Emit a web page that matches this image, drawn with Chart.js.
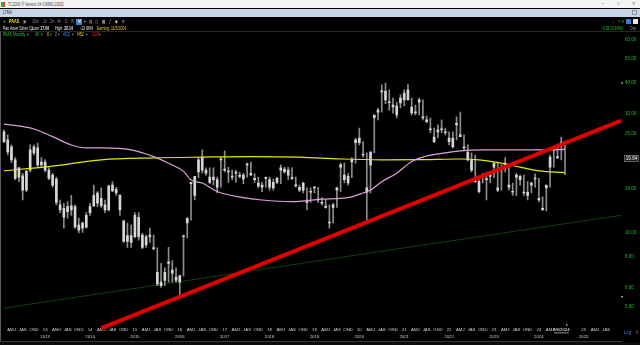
<!DOCTYPE html>
<html>
<head>
<meta charset="utf-8">
<script src="https://cdn.jsdelivr.net/npm/chart.js@4.4.1/dist/chart.umd.min.js"></script>
<style>
  html, body { margin: 0; padding: 0; background: #000; }
  #wrap { position: relative; width: 640px; height: 345px; overflow: hidden; background: #000;
          font-family: "Liberation Sans", Arial, "DejaVu Sans", sans-serif; }
  #chart { position: absolute; left: 0; top: 0; }
  .t { position: absolute; white-space: nowrap; font-size: 4.6px; line-height: 5px;
       transform: scaleX(0.76); transform-origin: 0 0; }
  .bar { position: absolute; }
</style>
</head>
<body>
<div id="wrap">
  <canvas id="chart" width="640" height="345"></canvas>

  <!-- window title bar -->
  <div class="bar" style="left:0;top:0;width:640px;height:8px;background:#f3f3f3;"></div>
  <div class="bar" style="left:1px;top:1.5px;width:2px;height:5px;background:#2eb82e;"></div>
  <div class="bar" style="left:3px;top:1.5px;width:2px;height:5px;background:#e04040;"></div>
  <div class="t" style="left:8px;top:1.5px;color:#444;">TC2000 ® Version 24.0.8890.23032</div>
  <div class="t" style="left:602px;top:1px;color:#555;font-size:5px;">–</div>
  <div class="t" style="left:617px;top:1px;color:#555;font-size:5px;">□</div>
  <div class="t" style="left:632px;top:1px;color:#555;font-size:5px;">✕</div>

  <!-- layout tab bar -->
  <div class="bar" style="left:0;top:8.5px;width:640px;height:8px;background:#c7d4e6;"></div>
  <div class="t" style="left:3px;top:10px;color:#334;">LTMA</div>
  <div class="bar" style="left:632px;top:10px;width:5px;height:5px;border:1px solid #8a93a0;box-sizing:border-box;"></div>

  <!-- toolbar row -->
  <div class="t" style="left:3px;top:18.5px;color:#2fd02f;font-size:6px;font-weight:bold;">+</div>
  <div class="t" style="left:9px;top:19px;color:#f0e000;font-size:5px;font-weight:bold;">PAAS</div>
  <div class="t" style="left:23px;top:19px;color:#9a9a9a;">▣</div>
  <div class="t" style="left:32px;top:19px;color:#8a8a8a;">10m</div>
  <div class="t" style="left:43px;top:19px;color:#8a8a8a;">1h</div>
  <div class="t" style="left:50px;top:19px;color:#8a8a8a;">2h</div>
  <div class="t" style="left:57px;top:19px;color:#8a8a8a;">4h</div>
  <div class="t" style="left:65px;top:19px;color:#8a8a8a;">D</div>
  <div class="t" style="left:71px;top:19px;color:#8a8a8a;">W</div>
  <div class="bar" style="left:76px;top:18.5px;width:5.5px;height:6px;background:#3a7bd5;"></div>
  <div class="t" style="left:77.5px;top:19px;color:#fff;">M</div>
  <div class="t" style="left:84px;top:19px;color:#aaa;">▾</div>
  <div class="t" style="left:89px;top:19px;color:#bbb;">▤</div>
  <div class="t" style="left:95px;top:19px;color:#888;">◫</div>
  <div class="t" style="left:102px;top:19px;color:#ccc;">▦</div>
  <div class="t" style="left:109px;top:19px;color:#ccc;">╱</div>
  <div class="t" style="left:115px;top:19px;color:#ccc;">◆</div>
  <div class="t" style="left:122px;top:19px;color:#ccc;">⟳</div>
  <div class="t" style="left:612px;top:19px;color:#888;">☆</div>
  <div class="t" style="left:618px;top:19px;color:#888;">▽</div>
  <div class="t" style="left:622px;top:19px;color:#2fd02f;">▾</div>
  <div class="bar" style="left:626px;top:19px;width:5px;height:5px;background:#3a7bd5;"></div>
  <div class="bar" style="left:633px;top:19px;width:5px;height:5px;background:#e8e8e8;"></div>

  <!-- quote row -->
  <div class="t" style="left:3px;top:25.5px;color:#e8e8e8;">Pan Amer Silver Cp</div>
  <div class="t" style="left:32px;top:25.5px;color:#e8e8e8;">Low: <b>17.06</b></div>
  <div class="t" style="left:55px;top:25.5px;color:#e8e8e8;">High: <b>23.14</b></div>
  <div class="t" style="left:80px;top:25.5px;color:#e8e8e8;">-13.66%</div>
  <div class="t" style="left:97px;top:25.5px;color:#e8c800;">Earning: 11/5/2024</div>
  <div class="t" style="left:601px;top:25.5px;color:#20d020;">↑0.02 (0.10%)</div>
  <div class="t" style="left:630px;top:25.5px;color:#999;">Opt</div>
  <div class="bar" style="left:0;top:31px;width:640px;height:1px;background:#262626;"></div>

  <!-- indicator row -->
  <div class="t" style="left:3px;top:32px;color:#30c030;">PAAS Monthly</div>
  <div class="t" style="left:27px;top:32px;color:#888;">▾</div>
  <div class="t" style="left:35px;top:32px;color:#30c030;">All</div>
  <div class="t" style="left:41px;top:32px;color:#888;">▾</div>
  <div class="t" style="left:47px;top:32px;color:#e0e000;">6</div>
  <div class="t" style="left:50px;top:32px;color:#888;">▾</div>
  <div class="t" style="left:55px;top:32px;color:#d080d0;">2</div>
  <div class="t" style="left:58px;top:32px;color:#888;">▾</div>
  <div class="t" style="left:63px;top:32px;color:#3090ff;">ADZ</div>
  <div class="t" style="left:72px;top:32px;color:#888;">▾</div>
  <div class="t" style="left:77px;top:32px;color:#e0d000;">HB2</div>
  <div class="t" style="left:86px;top:32px;color:#888;">▾</div>
  <div class="t" style="left:92px;top:32px;color:#e03030;">CLR</div>
  <div class="t" style="left:99px;top:32px;color:#888;">▾</div>

  <!-- frame and footer -->
  <div class="bar" style="left:0;top:32px;width:1px;height:310px;background:#5a5a5a;"></div>
  <div class="t" style="left:624px;top:330px;color:#3a80e0;font-size:5.5px;">Log</div>
  <div class="t" style="left:636px;top:330px;color:#d05020;font-size:5.5px;">d</div>
  <div class="bar" style="left:0;top:340.5px;width:622px;height:1px;background:#3a3a3a;"></div>
  <div class="bar" style="left:0;top:341.5px;width:640px;height:3.5px;background:#0c0c0c;"></div>
</div>

<script>
// month axis: Feb 2012 .. Nov 2025
const firstYear = 2012, firstMonth = 2, monthCount = 166;
const monthLabels = [];
for (let i = 0; i < monthCount; i++) {
    const m = firstMonth - 1 + i;
    const y = firstYear + Math.floor(m / 12);
    monthLabels.push(y + '-' + String(m % 12 + 1).padStart(2, '0'));
}

// monthly OHLC, Feb 2012 .. Aug 2024
const opens = [25.4,23.6,22.1,19.6,18.2,16.9,14.8,17.8,20.9,21.9,19.2,19.2,17.8,17.0,16.4,12.9,12.5,12.1,12.3,12.7,
    10.7,10.4,10.5,12.0,12.8,13.1,13.7,12.9,12.3,14.7,14.9,14.1,11.1,9.7,9.1,9.6,11.5,9.75,8.9,9.6,
    8.6,6.9,6.3,6.4,7.5,7.05,6.6,6.7,9.6,11.4,15.9,16.8,17.5,17.8,17.8,16.7,16.7,16.3,19.6,17.8,
    17.5,16.7,17.3,16.8,17.0,18.8,17.0,16.5,15.8,15.5,16.5,16.3,15.9,15.9,18.2,18.0,17.8,16.5,15.4,15.2,
    14.8,13.5,14.5,15.1,13.5,13.2,12.6,11.0,12.6,14.8,18.7,17.0,16.8,19.2,23.0,23.0,20.5,14.5,21.1,29.7,
    31.1,37.1,37.1,33.5,32.6,32.3,33.2,34.2,34.2,32.0,30.3,33.5,29.2,28.4,25.9,24.2,25.4,26.1,25.2,24.0,
    24.0,27.1,24.3,22.1,21.0,19.5,16.0,16.0,16.7,16.4,16.8,19.0,15.1,17.8,18.3,15.5,14.5,16.7,16.8,14.5,
    14.5,15.5,16.4,13.7,12.3,15.5,18.3,22.1,20.0,22.9];
const highs = [25.9,24.7,22.5,20.0,18.3,17.3,17.8,22.5,22.5,22.9,20.0,19.6,18.2,17.3,16.7,13.5,13.1,13.3,14.1,12.9,
    11.4,11.0,12.0,13.1,15.5,14.6,15.1,13.5,15.5,16.0,15.2,14.2,11.2,10.9,10.7,12.0,12.0,9.9,9.75,10.4,
    9.75,8.65,7.5,7.2,8.7,7.7,7.2,6.7,9.75,11.4,15.9,16.6,20.0,21.5,18.2,18.2,18.2,16.7,20.0,21.3,
    18.3,17.8,17.8,17.5,17.3,19.0,19.2,17.2,16.7,15.9,16.7,16.7,16.4,16.7,18.7,18.3,18.3,18.2,16.7,15.5,
    15.9,15.1,15.1,15.2,15.2,13.8,13.5,12.9,13.1,15.2,19.0,19.0,17.3,20.0,24.0,26.3,23.2,20.9,19.0,29.7,
    31.6,39.3,40.0,37.5,34.8,33.5,35.8,37.5,39.6,34.8,32.6,34.8,34.2,29.4,28.9,26.3,27.1,28.4,26.3,25.4,
    25.4,29.2,30.5,24.7,22.5,20.9,20.5,16.3,17.3,17.5,17.5,18.7,19.2,18.7,20.0,18.7,15.8,17.3,17.0,17.0,
    16.0,15.9,17.2,16.5,13.9,15.2,20.5,21.9,22.7,24.2,23.14];
const lows = [23.0,20.5,19.1,16.3,16.0,13.5,14.6,17.5,20.5,18.3,18.3,17.5,16.3,15.2,12.9,12.0,10.4,11.4,11.7,10.4,
    9.94,10.0,10.4,11.7,12.7,12.7,12.6,12.0,12.2,14.6,14.1,11.7,9.1,8.7,8.7,9.5,9.3,8.6,8.7,9.1,
    8.5,6.1,6.0,6.1,6.3,6.3,6.3,5.5,6.65,9.5,11.2,13.5,16.6,17.3,17.0,15.7,15.5,14.4,15.2,17.5,
    15.9,16.3,15.9,16.6,15.7,16.7,17.0,15.9,15.1,14.6,15.2,14.8,14.8,15.7,15.7,17.3,16.3,16.3,15.2,14.6,
    14.4,12.3,13.2,14.4,13.2,12.9,12.5,10.4,10.9,12.6,14.6,15.8,15.5,16.6,19.0,22.5,20.1,11.0,14.4,20.9,
    28.4,30.5,33.0,31.1,30.2,28.9,31.7,32.3,34.2,29.7,29.7,29.7,28.4,27.7,25.2,23.0,24.0,25.2,24.7,22.5,
    21.9,23.6,24.3,21.5,19.4,17.5,15.9,14.4,15.8,13.5,15.8,16.6,14.6,14.8,17.5,14.8,14.1,14.1,15.5,14.1,
    13.5,14.4,15.2,13.3,12.3,12.2,15.2,18.3,19.8,19.6,17.06];
const closes = [23.2,21.1,19.6,16.5,16.7,14.8,17.6,21.5,22.1,18.7,18.7,17.8,16.5,15.5,13.2,12.3,11.5,12.7,12.8,10.5,
    10.2,10.9,11.7,12.7,14.1,14.4,12.8,12.3,15.4,15.5,14.4,12.3,9.2,9.2,9.7,11.7,9.6,8.7,9.6,9.75,
    8.6,6.2,6.1,6.9,7.6,6.85,6.4,6.3,9.6,10.9,15.7,14.1,19.6,20.0,17.3,15.9,16.3,15.2,19.6,17.8,
    17.5,16.7,17.5,16.8,16.4,18.7,17.3,16.3,15.4,15.2,16.5,15.2,15.1,16.5,17.8,17.5,17.0,16.5,15.5,14.8,
    15.8,13.2,14.5,15.1,13.5,13.1,12.6,10.9,12.9,15.1,18.3,16.3,15.8,19.6,23.6,24.0,20.5,15.1,18.7,29.0,
    30.5,36.8,34.2,33.3,32.0,29.7,34.8,36.4,37.5,30.3,30.3,34.2,28.9,27.9,25.9,23.2,25.9,25.9,25.2,23.2,
    22.1,27.5,24.7,21.9,19.6,17.8,16.3,14.6,17.0,16.3,16.8,18.3,14.8,18.3,19.0,15.2,14.5,17.0,16.3,14.4,
    14.1,15.8,16.4,13.5,12.5,15.1,20.1,21.5,20.0,22.98,19.84];

// moving averages read at sample months
const pinkMonths = ['2012-02','2012-10','2013-03','2013-08','2013-12','2014-04','2014-12','2015-06','2015-10','2016-02',
    '2016-04','2016-07','2016-11','2017-06','2017-11','2018-07','2019-03','2019-08','2019-11','2020-02',
    '2020-04','2020-07','2020-11','2021-03','2021-06','2021-11','2022-04','2022-10','2024-03','2024-08'];
const pinkValues = [27.3,26.1,24.3,22.5,21.9,21.9,21.5,20.2,19.0,17.6,
    16.25,15.8,14.6,13.8,13.5,13.3,13.6,13.7,13.9,14.4,
    14.8,16.0,17.3,19.3,20.1,20.8,21.3,21.5,21.5,21.6];
const yellowMonths = ['2012-02','2013-03','2014-04','2015-06','2016-07','2017-08','2018-09','2019-08','2020-07','2021-06',
    '2022-04','2022-09','2023-03','2023-08','2024-01','2024-08'];
const yellowValues = [17.7,18.5,19.6,19.95,20.1,20.2,20.1,19.75,19.6,19.65,
    19.75,19.6,19.0,18.3,17.7,17.4];

// trend lines
const redMonths = ['2014-04','2025-11'];
const redValues = [4.11, 28.2];
const greenMonths = ['2012-02','2025-11'];
const greenValues = [4.95, 11.71];

const yTicks = [5, 6, 8, 10, 15, 25, 30, 40, 50, 60];
const lastPrice = 19.84;
const dateMarkMonth = '2024-07';
const dateMarkText = '9/6/2024';
const hiddenTickMonths = ['2024-10', '2025-10'];
const quarterNames = {4: 'AMJ', 7: 'JAS', 10: 'OND'};

const pts = (ms, vs) => ms.map((m, i) => ({x: m, y: vs[i]}));
const FONT = '"Liberation Sans", Arial, sans-serif';

const overlay = {
    id: 'overlay',
    afterDraw(chart) {
        const {ctx, chartArea, scales} = chart;
        const y = scales.y, x = scales.x;
        ctx.save();
        // visible high / low markers
        ctx.fillStyle = '#ffffff';
        [Math.max(...highs), Math.min(...lows)].forEach(v => {
            ctx.beginPath();
            ctx.arc(chartArea.right - 1, y.getPixelForValue(v), 0.8, 0, Math.PI * 2);
            ctx.fill();
        });
        // last price box
        const py = y.getPixelForValue(lastPrice);
        ctx.fillStyle = '#1c1c1c';
        ctx.fillRect(624.5, py - 3, 14, 6);
        ctx.strokeStyle = '#9a9a9a';
        ctx.lineWidth = 0.6;
        ctx.strokeRect(624.5, py - 3, 14, 6);
        ctx.fillStyle = '#ffffff';
        ctx.font = '4.5px ' + FONT;
        ctx.textAlign = 'center';
        ctx.textBaseline = 'middle';
        ctx.fillText(lastPrice.toFixed(2), 631.5, py + 0.3);
        // date marker under the axis
        const dx = x.getPixelForValue(monthLabels.indexOf(dateMarkMonth));
        ctx.fillStyle = '#bbbbbb';
        ctx.fillRect(dx - 7.5, chartArea.bottom + 10.5, 15, 0.8);
        ctx.fillStyle = '#ffffff';
        ctx.beginPath();
        ctx.arc(dx + 5.5, chartArea.bottom + 3, 0.8, 0, Math.PI * 2);
        ctx.fill();
        ctx.restore();
    }
};

new Chart(document.getElementById('chart'), {
    type: 'bar',
    data: {
        labels: monthLabels,
        datasets: [
            {
                type: 'line',
                label: 'Long support',
                data: pts(greenMonths, greenValues),
                borderColor: '#0f400f',
                borderWidth: 1,
                pointRadius: 0,
                order: 6
            },
            {
                label: 'Range',
                data: highs.map((h, i) => [lows[i], h]),
                backgroundColor: '#8c8c8c',
                barThickness: 1,
                grouped: false,
                order: 5
            },
            {
                label: 'Body',
                data: opens.map((o, i) => [Math.min(o, closes[i]), Math.max(o, closes[i])]),
                backgroundColor: '#d6d6d6',
                barThickness: 2,
                minBarLength: 1,
                grouped: false,
                order: 4
            },
            {
                type: 'line',
                label: 'MA yellow',
                data: pts(yellowMonths, yellowValues),
                borderColor: '#e6e600',
                borderWidth: 1.2,
                pointRadius: 0,
                cubicInterpolationMode: 'monotone',
                order: 3
            },
            {
                type: 'line',
                label: 'MA pink',
                data: pts(pinkMonths, pinkValues),
                borderColor: '#dca0dc',
                borderWidth: 1.2,
                pointRadius: 0,
                cubicInterpolationMode: 'monotone',
                order: 2
            },
            {
                type: 'line',
                label: 'Trend',
                data: pts(redMonths, redValues),
                borderColor: '#e00000',
                borderWidth: 4,
                borderCapStyle: 'butt',
                pointRadius: 0,
                clip: false,
                order: 1
            }
        ]
    },
    options: {
        responsive: false,
        animation: false,
        layout: { padding: { top: 33, left: 0, right: 0, bottom: 0 } },
        plugins: { legend: { display: false }, tooltip: { enabled: false } },
        scales: {
            x: {
                type: 'category',
                offset: true,
                grid: { display: false, drawTicks: false },
                border: { display: false },
                afterFit: s => { s.height = 23; },
                ticks: {
                    autoSkip: false,
                    maxRotation: 0,
                    minRotation: 0,
                    padding: 4,
                    font: { size: 4.3, family: FONT, lineHeight: 1.7 },
                    color: c => monthLabels[c.index] === dateMarkMonth ? '#ffffff' : '#d0d0d0',
                    callback: (v, i) => {
                        const lab = monthLabels[i];
                        if (lab === dateMarkMonth) return dateMarkText;
                        if (hiddenTickMonths.includes(lab)) return '';
                        const yr = lab.slice(0, 4), mo = +lab.slice(5);
                        if (mo === 1) return [yr.slice(2), yr];
                        return quarterNames[mo] || '';
                    }
                }
            },
            y: {
                type: 'logarithmic',
                position: 'right',
                min: 4.35,
                max: 63.6,
                grid: { display: false, drawTicks: false },
                border: { display: false },
                afterFit: s => { s.width = 17; },
                afterBuildTicks: s => { s.ticks = yTicks.map(v => ({ value: v })); },
                ticks: {
                    color: '#18c818',
                    padding: 2,
                    font: { size: 4.5, family: FONT },
                    callback: v => Number(v).toFixed(2)
                }
            }
        }
    },
    plugins: [overlay]
});
</script>
</body>
</html>
